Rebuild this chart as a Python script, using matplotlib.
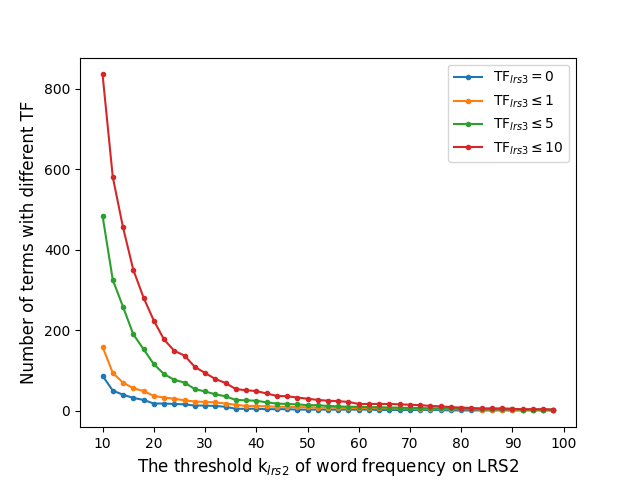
import numpy as np
import matplotlib
matplotlib.use('Agg')
import matplotlib.pyplot as plt

# threshold k on LRS2
k = np.arange(10, 100, 2)

tf0 = [87, 50, 40, 32, 27, 18, 18, 17, 16, 13,
       13, 12, 10, 5, 5, 5, 4, 4, 4, 3,
       3, 3, 3, 3, 3, 3, 3, 2, 2, 2,
       2, 2, 2, 2, 1, 1, 1, 1, 1, 1,
       1, 1, 1, 1, 1]
tf1 = [159, 94, 70, 56, 49, 37, 33, 30, 26, 23,
       22, 21, 18, 15, 12, 12, 11, 10, 10, 9,
       9, 8, 8, 8, 7, 7, 7, 7, 6, 6,
       6, 5, 5, 5, 4, 4, 4, 3, 3, 3,
       3, 2, 2, 2, 1]
tf5 = [484, 325, 258, 190, 153, 116, 91, 77, 70, 54,
       48, 41, 36, 27, 26, 25, 21, 18, 17, 16,
       14, 14, 12, 11, 10, 10, 9, 9, 8, 8,
       7, 7, 6, 6, 6, 5, 5, 4, 4, 4,
       4, 3, 3, 3, 3]
tf10 = [835, 580, 455, 350, 281, 224, 177, 149, 137, 109,
        94, 79, 69, 54, 51, 49, 43, 37, 36, 33,
        30, 27, 25, 24, 22, 17, 17, 17, 17, 16,
        15, 14, 12, 11, 9, 8, 7, 6, 6, 6,
        5, 4, 4, 4, 3]

labels = [r'TF$_{lrs3}=0$', r'TF$_{lrs3}\leq1$',
          r'TF$_{lrs3}\leq5$', r'TF$_{lrs3}\leq10$']

fig = plt.figure(figsize=(6.4, 4.8), dpi=100)
for ys, lab in zip([tf0, tf1, tf5, tf10], labels):
    plt.plot(k, ys, marker='.', label=lab)

plt.xticks(np.arange(10, 101, 10))
plt.xlabel(r'The threshold k$_{lrs2}$ of word frequency on LRS2', fontsize=12)
plt.ylabel('Number of terms with different TF', fontsize=12)
plt.legend(loc='upper right')
plt.savefig('out.png')
